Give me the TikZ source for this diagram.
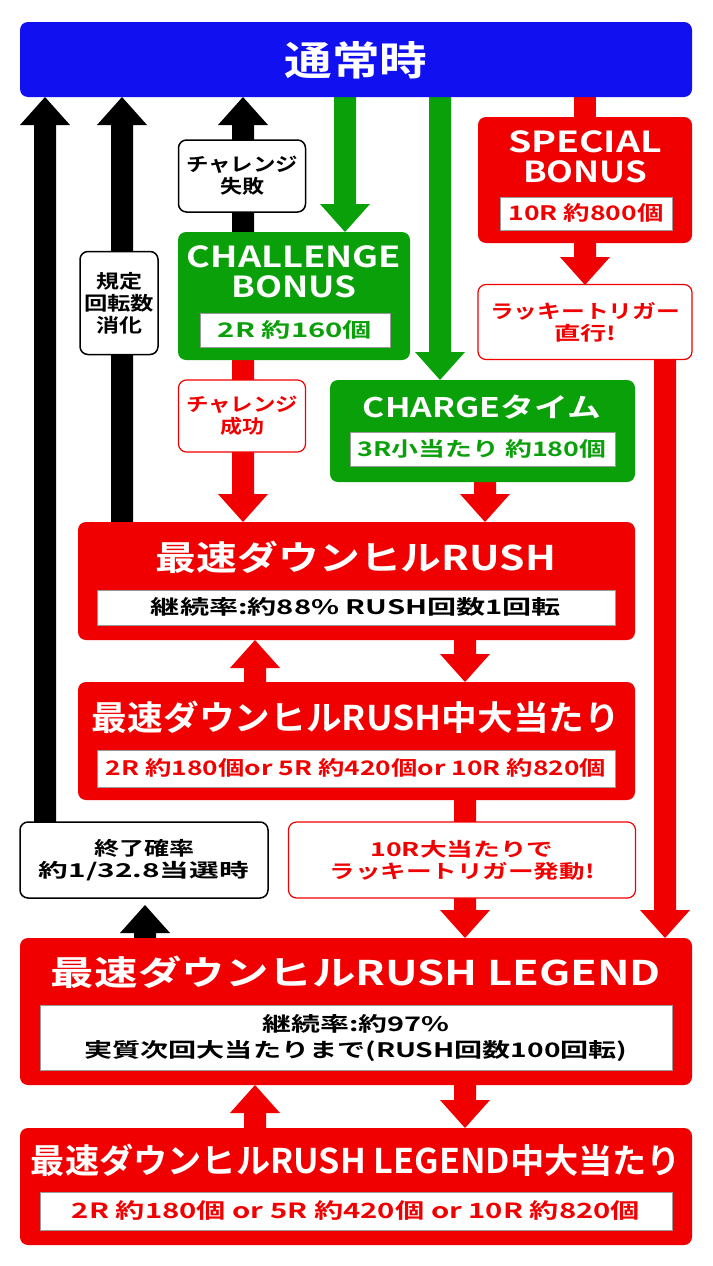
\documentclass[tikz,border=0pt]{standalone}
\usepackage{fontspec}
\usepackage{graphicx}
\setmainfont{Noto Sans CJK JP Bold}
\definecolor{rd}{RGB}{240,0,0}
\definecolor{gr}{RGB}{10,160,10}
\definecolor{bl}{RGB}{16,16,240}
\tikzset{
  redbox/.style={fill=rd,rounded corners=8pt},
  grbox/.style={fill=gr,rounded corners=8pt},
  inbox/.style={fill=white,draw=black!40,line width=0.6pt},
  lblred/.style={fill=white,draw=rd,line width=1.2pt,rounded corners=8pt,text=rd,align=center,font=\fontsize{19}{22}\selectfont},
  lblblk/.style={fill=white,draw=black,line width=1.5pt,rounded corners=8pt,align=center,font=\fontsize{19}{22}\selectfont},
  ttl/.style={text=white,font=\fontsize{34}{36}\selectfont},
}
% stretch a text to a given width
\newcommand{\fw}[2]{\resizebox{#1pt}{\height}{#2}}
% block arrows: x, tip y, tail y, colour
\newcommand{\uparr}[4]{\fill[#4] (#1-11,#3) -- (#1-11,#2+28) -- (#1-25,#2+28) -- (#1,#2) -- (#1+25,#2+28) -- (#1+11,#2+28) -- (#1+11,#3) -- cycle;}
\newcommand{\dnarr}[4]{\fill[#4] (#1-11,#3) -- (#1-11,#2-28) -- (#1-25,#2-28) -- (#1,#2) -- (#1+25,#2-28) -- (#1+11,#2-28) -- (#1+11,#3) -- cycle;}
\begin{document}
\begin{tikzpicture}[x=1pt,y=-1pt]
\useasboundingbox (0,0) rectangle (712,1266);

% arrows behind boxes
\uparr{45}{97}{830}{black}
\uparr{145}{905}{940}{black}
\uparr{122}{97}{525}{black}
\uparr{243}{97}{235}{black}
\dnarr{345}{232}{95}{gr}
\dnarr{440}{380}{95}{gr}
\fill[rd] (574,95) rectangle (596,120);
\dnarr{585}{285}{240}{rd}
\dnarr{665}{938}{355}{rd}
\dnarr{243}{522}{355}{rd}
\dnarr{485}{522}{480}{rd}
\uparr{255}{640}{684}{rd}
\dnarr{465}{682}{638}{rd}
\dnarr{465}{938}{798}{rd}
\uparr{255}{1085}{1130}{rd}
\dnarr{465}{1128}{1083}{rd}

% top bar
\fill[bl,rounded corners=8pt] (20,22) rectangle (692,97);
\node[ttl,font=\fontsize{40}{40}\selectfont] (normal) at (356,60) {\fw{143}{通常時}};

% special bonus
\fill[redbox] (478,117) rectangle (692,243);
\node[ttl,align=center,font=\fontsize{29}{30}\selectfont] (sp) at (585,157) {\fw{154}{SPECIAL}\\\fw{124}{BONUS}};
\draw[inbox] (500,197) rectangle (672,230);
\node[text=rd,font=\fontsize{20}{20}\selectfont] (spv) at (586,213) {\fw{155}{10R 約800個}};
\node[lblred,minimum width=214pt,minimum height=75pt] (lucky) at (585,322) {\fw{190}{ラッキートリガー}\\\fw{62}{直行!}};

% challenge bonus
\fill[grbox] (178,232) rectangle (410,360);
\node[ttl,align=center,font=\fontsize{29}{30}\selectfont] (cb) at (294,272) {\fw{214}{CHALLENGE}\\\fw{125}{BONUS}};
\draw[inbox] (200,313) rectangle (390,347);
\node[text=gr,font=\fontsize{20}{20}\selectfont] (cbv) at (295,330) {\fw{154}{2R 約160個}};

\node[lblblk,minimum width=127pt,minimum height=72pt] (fail) at (242,176) {\fw{112}{チャレンジ}\\\fw{44}{失敗}};
\node[lblblk,minimum width=78pt,minimum height=103pt] (kitei) at (119,303) {\fw{46}{規定}\\\fw{70}{回転数}\\\fw{46}{消化}};
\node[lblred,minimum width=127pt,minimum height=72pt] (succ) at (242,416) {\fw{112}{チャレンジ}\\\fw{44}{成功}};

% charge
\fill[grbox] (330,380) rectangle (635,482);
\node[ttl,font=\fontsize{27}{28}\selectfont] (ch) at (482,407) {\fw{238}{CHARGEタイム}};
\draw[inbox] (350,432) rectangle (615,466);
\node[text=gr,font=\fontsize{20}{20}\selectfont] (chv) at (482,449) {\fw{249}{3R小当たり 約180個}};

% rush
\fill[redbox] (78,522) rectangle (635,640);
\node[ttl] (rush) at (356,557) {\fw{400}{最速ダウンヒルRUSH}};
\draw[inbox] (97,590) rectangle (615,625);
\node[font=\fontsize{20}{20}\selectfont] (rushv) at (356,607) {\fw{410}{継続率:約88\% RUSH回数1回転}};

\fill[redbox] (78,682) rectangle (635,800);
\node[ttl] (rushh) at (356,717) {\fw{528}{最速ダウンヒルRUSH中大当たり}};
\draw[inbox] (97,750) rectangle (615,787);
\node[text=rd,font=\fontsize{20}{20}\selectfont] (rushhv) at (356,768) {\fw{500}{2R 約180個or 5R 約420個or 10R 約820個}};

\node[lblblk,minimum width=248pt,minimum height=76pt] (end) at (144,860) {\fw{100}{終了確率}\\\fw{210}{約1/32.8当選時}};
\node[lblred,minimum width=347pt,minimum height=76pt] (trig) at (462,860) {\fw{183}{10R大当たりで}\\\fw{265}{ラッキートリガー発動!}};

% legend
\fill[redbox] (20,938) rectangle (692,1085);
\node[ttl] (leg) at (356,972) {\fw{610}{最速ダウンヒルRUSH LEGEND}};
\draw[inbox] (40,1005) rectangle (672,1070);
\node[align=center,font=\fontsize{20}{26}\selectfont] (legv) at (356,1038) {\fw{187}{継続率:約97\%}\\\fw{543}{実質次回大当たりまで(RUSH回数100回転)}};

\fill[redbox] (20,1128) rectangle (692,1245);
\node[ttl] (legh) at (356,1160) {\fw{650}{最速ダウンヒルRUSH LEGEND中大当たり}};
\draw[inbox] (40,1192) rectangle (672,1230);
\node[text=rd,font=\fontsize{21}{22}\selectfont] (leghv) at (356,1211) {\fw{568}{2R 約180個 or 5R 約420個 or 10R 約820個}};
\end{tikzpicture}
\end{document}
